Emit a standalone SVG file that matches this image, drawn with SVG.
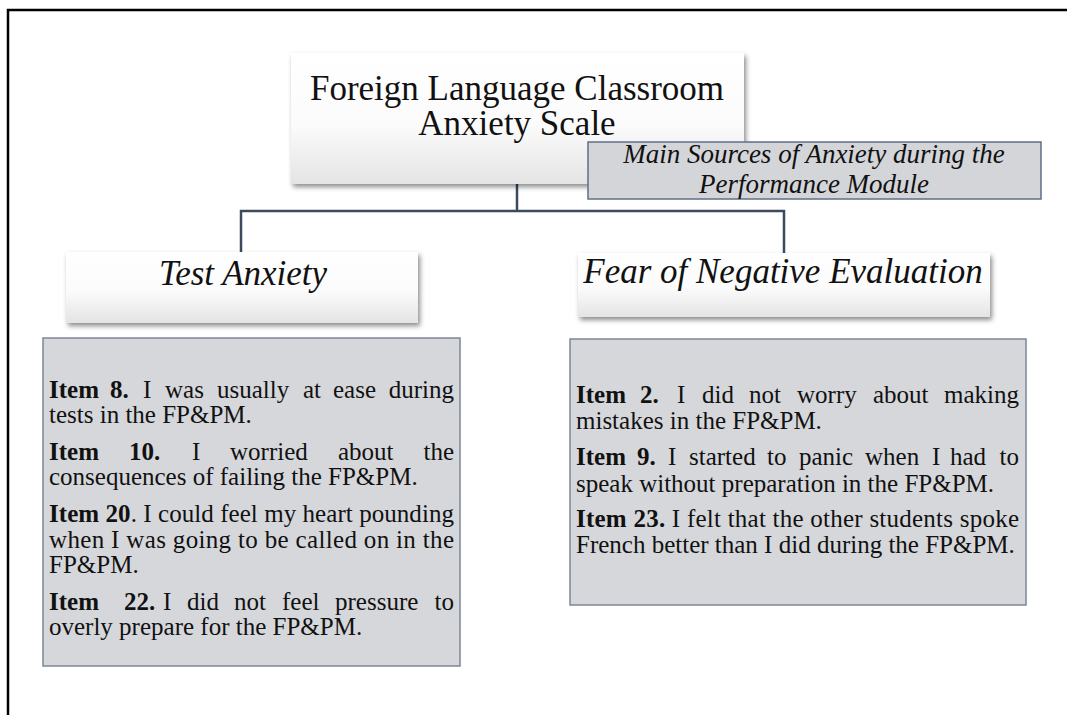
<svg xmlns="http://www.w3.org/2000/svg" width="1067" height="715" viewBox="0 0 1067 715">
<style>
.serif{font-family:"Liberation Serif","Times New Roman",serif;fill:#111;}
.title{font-size:35px;text-anchor:middle;}
.cat{font-size:35px;font-style:italic;text-anchor:middle;}
.sub{font-size:27px;font-style:italic;text-anchor:middle;}
.item{font-size:25px;}
.b{font-weight:bold;}
.card{fill:url(#g);filter:url(#sh);}
.panel{fill:#d6d7db;stroke:#7d8798;stroke-width:1.5;}
.conn{fill:none;stroke:#3c4a5e;stroke-width:2.5;}
</style>
<defs>
<linearGradient id="g" x1="0" y1="0" x2="0" y2="1">
<stop offset="0" stop-color="#ffffff"/>
<stop offset="0.55" stop-color="#fbfbfb"/>
<stop offset="1" stop-color="#e4e4e4"/>
</linearGradient>
<filter id="sh" x="-10%" y="-10%" width="120%" height="130%">
<feDropShadow dx="2" dy="3" stdDeviation="2.5" flood-color="#000" flood-opacity="0.45"/>
</filter>
</defs>
<rect width="1067" height="715" fill="#fff"/>
<path d="M8,715 V10 H1067" fill="none" stroke="#000" stroke-width="2.5"/>

<g id="connectors">
<path class="conn" d="M517,184 V211"/>
<path class="conn" d="M241,252 V211 H784 V253"/>
</g>

<g id="root">
<rect class="card" x="291" y="53" width="453" height="131"/>
<text class="serif title" x="517" y="100">Foreign Language Classroom</text>
<text class="serif title" x="517" y="135">Anxiety Scale</text>
</g>

<g id="subtitle">
<rect x="588" y="142" width="453" height="57" fill="#d4d5d9" stroke="#5f6e86" stroke-width="1.5"/>
<text class="serif sub" x="814" y="163">Main Sources of Anxiety during the</text>
<text class="serif sub" x="814" y="193">Performance Module</text>
</g>

<g id="test-anxiety">
<rect class="card" x="66" y="252" width="352" height="71"/>
<text class="serif cat" x="243" y="285">Test Anxiety</text>
</g>

<g id="fear-negative">
<rect class="card" x="578" y="253" width="412" height="64"/>
<text class="serif cat" x="783" y="283">Fear of Negative Evaluation</text>
</g>

<g id="test-items">
<rect class="panel" x="43" y="338" width="417" height="328"/>
<text class="serif item" y="398"><tspan class="b" x="49">Item</tspan><tspan class="b" x="110">8.</tspan><tspan x="143">I</tspan><tspan x="165">was</tspan><tspan x="217">usually</tspan><tspan x="303">at</tspan><tspan x="333">ease</tspan><tspan x="454" text-anchor="end">during</tspan></text>
<text class="serif item" x="49" y="423">tests in the FP&amp;PM.</text>
<text class="serif item" y="460"><tspan class="b" x="49">Item</tspan><tspan class="b" x="129">10.</tspan><tspan x="192">I</tspan><tspan x="230">worried</tspan><tspan x="338">about</tspan><tspan x="454" text-anchor="end">the</tspan></text>
<text class="serif item" x="49" y="485">consequences of failing the FP&amp;PM.</text>
<text class="serif item" x="49" y="522" textLength="405" lengthAdjust="spacing"><tspan class="b">Item 20</tspan>. I could feel my heart pounding</text>
<text class="serif item" x="49" y="548" textLength="405" lengthAdjust="spacing">when I was going to be called on in the</text>
<text class="serif item" x="49" y="573">FP&amp;PM.</text>
<text class="serif item" y="610"><tspan class="b" x="49">Item</tspan><tspan class="b" x="124">22.</tspan><tspan x="163">I</tspan><tspan x="187">did</tspan><tspan x="234">not</tspan><tspan x="282">feel</tspan><tspan x="335">pressure</tspan><tspan x="454" text-anchor="end">to</tspan></text>
<text class="serif item" x="49" y="635">overly prepare for the FP&amp;PM.</text>
</g>

<g id="fear-items">
<rect class="panel" x="570" y="339" width="456" height="266"/>
<text class="serif item" y="403"><tspan class="b" x="576">Item</tspan><tspan class="b" x="640">2.</tspan><tspan x="677">I</tspan><tspan x="702">did</tspan><tspan x="749">not</tspan><tspan x="797">worry</tspan><tspan x="873">about</tspan><tspan x="1019" text-anchor="end">making</tspan></text>
<text class="serif item" x="576" y="429">mistakes in the FP&amp;PM.</text>
<text class="serif item" y="465"><tspan class="b" x="576">Item</tspan><tspan class="b" x="637">9.</tspan><tspan x="668">I</tspan><tspan x="689">started</tspan><tspan x="767">to</tspan><tspan x="799">panic</tspan><tspan x="865">when</tspan><tspan x="932">I</tspan><tspan x="950">had</tspan><tspan x="1019" text-anchor="end">to</tspan></text>
<text class="serif item" x="576" y="492">speak without preparation in the FP&amp;PM.</text>
<text class="serif item" x="576" y="527" textLength="443" lengthAdjust="spacing"><tspan class="b">Item 23.</tspan> I felt that the other students spoke</text>
<text class="serif item" x="576" y="553">French better than I did during the FP&amp;PM.</text>
</g>
</svg>
